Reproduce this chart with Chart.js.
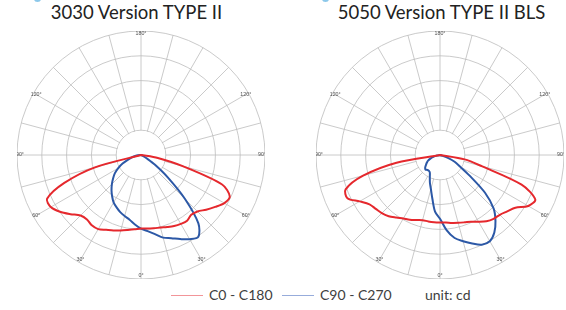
<!DOCTYPE html>
<html>
<head>
<meta charset="utf-8">
<script src="https://cdn.jsdelivr.net/npm/chart.js@4/dist/chart.umd.min.js"></script>
<style>
  body { margin: 0; width: 566px; height: 310px; background: #fff; position: relative; overflow: hidden; font-family: Lato, sans-serif; }
  .title { position: absolute; top: 3px; font-size: 18.5px; line-height: 18.5px; color: #222; text-align: center; white-space: nowrap; }
  .chartBox { position: absolute; top: 31px; width: 248px; height: 248px; }
  .legText { position: absolute; top: 288px; font-size: 14px; line-height: 14px; color: #404040; white-space: nowrap; }
  .legLine { position: absolute; top: 294.5px; height: 1.6px; width: 32px; }
  .icon { position: absolute; top: -4px; width: 7px; height: 6px; border-radius: 50%; background: #8cc8ea; }
</style>
</head>
<body>
<div class="icon" style="left:34px"></div>
<div class="icon" style="left:322px"></div>
<div class="title" style="left:0; width:273px">3030 Version TYPE II</div>
<div class="title" style="left:283px; width:317px">5050 Version TYPE II BLS</div>

<div class="chartBox" style="left:17px"><canvas id="chartLeft" width="248" height="248"></canvas></div>
<div class="chartBox" style="left:316px"><canvas id="chartRight" width="248" height="248"></canvas></div>

<div class="legLine" style="left:171px; background:#f29599"></div>
<div class="legText" style="left:209px">C0 - C180</div>
<div class="legLine" style="left:282px; background:#97acdb"></div>
<div class="legText" style="left:320px">C90 - C270</div>
<div class="legText" style="left:425px">unit: cd</div>

<script>
// angles every 5 deg, clockwise from the top (gamma 180) round to the bottom (gamma 0)
const stepDeg = 5;
const angleCategories = [];
for (let a = 0; a < 360; a += stepDeg) angleCategories.push(a);
const shownAngles = [180, 120, 90, 60, 30, 0];

// left: 3030 Version TYPE II
const left_C0_C180 = [
    0, 0, 0, 0, 0, 0, 0, 0, 0, 0, 0, 0, 0, 0, 0, 0, 0, 0, 0, 0,
    69, 174, 348, 395, 388, 365, 343, 322, 315, 324, 321, 316, 309, 303, 300, 298,
    296, 301, 307, 315, 324, 333, 345, 346, 339, 345, 371, 399, 420, 418, 329, 192,
    0, 0, 0, 0, 0, 0, 0, 0, 0, 0, 0, 0, 0, 0, 0, 0, 0, 0, 0, 0
];
const left_C90_C270 = [
    0, 0, 0, 0, 0, 0, 0, 0, 0, 0, 0, 0, 0, 0, 0, 0, 0, 0, 0, 0, 0, 0, 0,
    8, 24, 69, 142, 252, 360, 403, 392, 374, 357, 345, 324, 308, 297, 281, 265,
    255, 245, 233, 221, 203, 185, 166, 147, 129, 106, 82, 57, 40, 24, 12,
    0, 0, 0, 0, 0, 0, 0, 0, 0, 0, 0, 0, 0, 0, 0, 0, 0, 0
];

// right: 5050 Version TYPE II BLS
const right_C0_C180 = [
    0, 0, 0, 0, 0, 0, 0, 0, 0, 0, 0, 0, 0, 0, 0, 0, 0, 0, 0, 0,
    101, 174, 350, 424, 411, 371, 354, 341, 336, 326, 311, 297, 289, 283, 278, 273,
    272, 272, 272, 272, 279, 288, 296, 308, 322, 332, 338, 347, 374, 412, 405, 321, 178,
    0, 0, 0, 0, 0, 0, 0, 0, 0, 0, 0, 0, 0, 0, 0, 0, 0, 0, 0
];
const right_C90_C270 = [
    0, 0, 0, 0, 0, 0, 0, 0, 0, 0, 0, 0, 0, 0, 0, 0, 0, 0, 0, 0, 0, 0,
    36, 65, 93, 147, 237, 306, 348, 382, 402, 399, 380, 360, 340, 304, 257, 229,
    178, 142, 119, 97, 82, 78, 79, 83, 78, 69, 61, 53, 40, 28, 12,
    0, 0, 0, 0, 0, 0, 0, 0, 0, 0, 0, 0, 0, 0, 0, 0, 0, 0, 0
];

const scaleMax = 500;
const ringStep = 100;
const labelRadiusValue = 488;

const gridColor = '#bdbdbd';
const redColor = '#e5282d';
const blueColor = '#2c58a6';

function gammaOf(phi) {
    return phi <= 180 ? 180 - phi : phi - 180;
}

// blank the inner ring so spokes start at it, then write the few angle labels
const polarDecor = {
    id: 'polarDecor',
    beforeDatasetsDraw(chart) {
        const s = chart.scales.r;
        const ctx = chart.ctx;
        ctx.save();
        ctx.fillStyle = '#fff';
        ctx.beginPath();
        ctx.arc(s.xCenter, s.yCenter, s.getDistanceFromCenterForValue(ringStep) - 0.6, 0, Math.PI * 2);
        ctx.fill();
        ctx.restore();
    },
    afterDatasetsDraw(chart) {
        const s = chart.scales.r;
        const ctx = chart.ctx;
        const dist = s.getDistanceFromCenterForValue(labelRadiusValue);
        ctx.save();
        ctx.font = '5.3px "Liberation Sans"';
        ctx.fillStyle = '#505050';
        ctx.textAlign = 'center';
        ctx.textBaseline = 'middle';
        angleCategories.forEach((phi, i) => {
            const g = gammaOf(phi);
            if (!shownAngles.includes(g)) return;
            const p = s.getPointPosition(i, dist);
            ctx.fillText(g + '°', p.x, p.y);
        });
        ctx.restore();
    }
};

function makeChart(id, redData, blueData) {
    const ctx = document.getElementById(id).getContext('2d');
    return new Chart(ctx, {
        type: 'radar',
        data: {
            labels: angleCategories.map(a => String(gammaOf(a))),
            datasets: [
                {
                    label: 'C0 - C180',
                    data: redData,
                    borderColor: redColor,
                    borderWidth: 2,
                    fill: false
                },
                {
                    label: 'C90 - C270',
                    data: blueData,
                    borderColor: blueColor,
                    borderWidth: 2,
                    fill: false
                }
            ]
        },
        options: {
            responsive: false,
            animation: false,
            layout: { padding: 0 },
            elements: {
                point: { radius: 0 },
                line: { tension: 0.3 }
            },
            plugins: {
                legend: { display: false },
                tooltip: { enabled: false }
            },
            scales: {
                r: {
                    min: 0,
                    max: scaleMax,
                    ticks: { display: false, stepSize: ringStep },
                    grid: { circular: true, color: gridColor, lineWidth: 0.8 },
                    angleLines: {
                        color: c => (c.index % 3 === 0 ? gridColor : 'rgba(0,0,0,0)'),
                        lineWidth: 0.8
                    },
                    pointLabels: { display: false }
                }
            }
        },
        plugins: [polarDecor]
    });
}

makeChart('chartLeft', left_C0_C180, left_C90_C270);
makeChart('chartRight', right_C0_C180, right_C90_C270);
</script>
</body>
</html>
